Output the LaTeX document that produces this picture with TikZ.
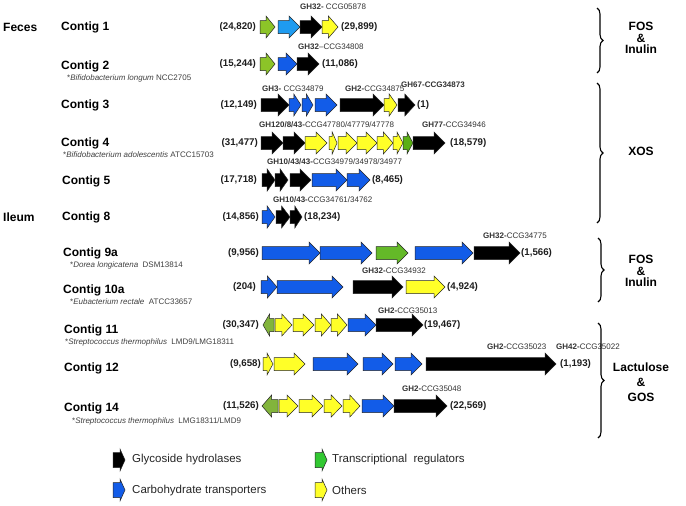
\documentclass[tikz,border=0pt]{standalone}
\usepackage{fontspec}
\setmainfont{Liberation Sans}
\usetikzlibrary{decorations.pathreplacing}
\definecolor{gblue}{RGB}{18,92,232}
\definecolor{lblue}{RGB}{30,155,240}
\definecolor{ggreen}{RGB}{140,196,40}
\definecolor{gmid}{RGB}{100,185,40}
\definecolor{gdark}{RGB}{90,175,20}
\definecolor{golive}{RGB}{130,180,60}
\definecolor{lgreen}{RGB}{50,200,50}
\definecolor{gyellow}{RGB}{255,255,40}
\definecolor{txt}{RGB}{30,30,30}
\tikzset{
 genestyle/.style={draw=black!85, line width=0.5pt, line join=miter},
 backbone/.style={draw=black!70, double=white, double distance=1.4pt, line width=0.45pt},
 coordlab/.style={font=\fontsize{9.7}{10}\selectfont\bfseries, text=txt, inner sep=0pt},
 contig/.style={font=\fontsize{12}{12}\selectfont\bfseries, anchor=west, inner sep=0pt},
 species/.style={font=\fontsize{8}{8}\selectfont, text=black!75, anchor=west, inner sep=0pt},
 glabel/.style={font=\fontsize{8}{8}\selectfont, text=black!80, anchor=west, inner sep=0pt},
 brlabel/.style={font=\fontsize{12}{11.5}\selectfont\bfseries, align=center, inner sep=0pt},
 bracestyle/.style={decorate, decoration={brace, amplitude=6pt}, line width=1.1pt},
 legtext/.style={font=\fontsize{11.5}{12}\selectfont, anchor=west, inner sep=0pt, text=black!85},
}
% right-pointing gene: x1, x2, y, colour
\newcommand\gR[4]{%
 \pgfmathsetmacro\hl{min(11,0.6*(#2-#1))}%
 \draw[genestyle, fill=#4] (#1,#3-6.5) -- ({#2-\hl},#3-6.5) -- ({#2-\hl},#3-11) -- (#2,#3) -- ({#2-\hl},#3+11) -- ({#2-\hl},#3+6.5) -- (#1,#3+6.5) -- cycle;}
% left-pointing gene
\newcommand\gL[4]{%
 \pgfmathsetmacro\hl{min(11,0.6*(#2-#1))}%
 \draw[genestyle, fill=#4] (#2,#3-6.5) -- ({#1+\hl},#3-6.5) -- ({#1+\hl},#3-11) -- (#1,#3) -- ({#1+\hl},#3+11) -- ({#1+\hl},#3+6.5) -- (#2,#3+6.5) -- cycle;}
% row: name, y, start label, its right x, end label, its left x
\newcommand\generow[6]{%
 \node[coordlab, anchor=east] (#1s) at (#4,#2) {#3};
 \node[coordlab, anchor=west] (#1e) at (#6,#2) {#5};
 \draw[backbone] (#1s.east) -- (#1e.west);}
\newcommand\legarrow[3]{%
 \draw[genestyle, fill=#3] (#1,#2-7.5) -- (#1+7,#2-7.5) -- (#1+7,#2-11) -- (#1+12,#2) -- (#1+7,#2+11) -- (#1+7,#2+7.5) -- (#1,#2+7.5) -- cycle;}
\begin{document}
\begin{tikzpicture}[x=1pt,y=-1pt]
\useasboundingbox (0,0) rectangle (686,506);
\fill[white] (0,0) rectangle (686,506);

% site labels
\node[contig] (feces) at (3,27) {Feces};
\node[contig] (ileum) at (3,217) {Ileum};

% contig labels
\node[contig] (c1) at (61,27) {Contig 1};
\node[contig] (c2) at (61,66) {Contig 2};
\node[species] (s2) at (67,78) {*\textit{Bifidobacterium longum} NCC2705};
\node[contig] (c3) at (61,105) {Contig 3};
\node[contig] (c4) at (61,143) {Contig 4};
\node[species] (s4) at (63,155) {*\textit{Bifidobacterium adolescentis} ATCC15703};
\node[contig] (c5) at (62,181) {Contig 5};
\node[contig] (c8) at (62,217) {Contig 8};
\node[contig] (c9) at (63,253) {Contig 9a};
\node[species] (s9) at (70,265) {*\textit{Dorea longicatena}\ \ DSM13814};
\node[contig] (c10) at (63,290) {Contig 10a};
\node[species] (s10) at (70,302) {*\textit{Eubacterium rectale}\ \ ATCC33657};
\node[contig] (c11) at (64,330) {Contig 11};
\node[species] (s11) at (65,342) {*\textit{Streptococcus thermophilus}\ \ LMD9/LMG18311};
\node[contig] (c12) at (64,368) {Contig 12};
\node[contig] (c14) at (64,408) {Contig 14};
\node[species] (s14) at (72,421) {*\textit{Streptococcus thermophilus}\ \ LMG18311/LMD9};

% Contig 1
\generow{r1}{27}{(24,820)}{256}{(29,899)}{341}
\gR{260}{275}{27}{ggreen}
\gR{278}{300}{27}{lblue}
\gR{300}{322}{27}{black}
\gR{322}{338}{27}{gyellow}
\node[glabel] (l1) at (300,7) {\textbf{GH32-} CCG05878};

% Contig 2
\generow{r2}{64}{(15,244)}{256}{(11,086)}{322}
\gR{260}{275}{64}{ggreen}
\gR{278}{297}{64}{gblue}
\gR{297}{319}{64}{black}
\node[glabel] (l2) at (298,47) {\textbf{GH32}\textendash CCG34808};

% Contig 3
\generow{r3}{105}{(12,149)}{257}{(1)}{417}
\gR{261}{289}{105}{black}
\gR{289}{301}{105}{gblue}
\gR{302}{313}{105}{gblue}
\gR{315}{337}{105}{gblue}
\gR{340}{384}{105}{black}
\gR{384}{397}{105}{gyellow}
\gR{398}{415}{105}{black}
\node[glabel] (l3a) at (262,89) {\textbf{GH3-} CCG34879};
\node[glabel] (l3b) at (345,89) {\textbf{GH2-}CCG34875};
\node[glabel] (l3c) at (401,85) {\textbf{GH67-CCG34873}};

% Contig 4
\generow{r4}{143}{(31,477)}{258}{(18,579)}{450}
\gR{261}{283}{143}{black}
\gR{283}{305}{143}{black}
\gR{305}{327}{143}{gyellow}
\gR{329}{337}{143}{gyellow}
\gR{338}{357}{143}{gyellow}
\gR{357}{377}{143}{gyellow}
\gR{377}{393}{143}{gyellow}
\gR{393}{403}{143}{gyellow}
\gR{403}{413}{143}{gdark}
\gR{413}{445}{143}{black}
\node[glabel] (l4a) at (259,125) {\textbf{GH120/8/43-}CCG47780/47779/47778};
\node[glabel] (l4b) at (422,125) {\textbf{GH77-}CCG34946};

% Contig 5
\generow{r5}{180}{(17,718)}{257}{(8,465)}{372}
\gR{262}{275}{180}{black}
\gR{275}{288}{180}{black}
\gR{290}{311}{180}{black}
\gR{312}{347}{180}{gblue}
\gR{347}{370}{180}{gblue}
\node[glabel] (l5) at (267,162) {\textbf{GH10/43/43-}CCG34979/34978/34977};

% Contig 8
\generow{r8}{217}{(14,856)}{259}{(18,234)}{304}
\gR{262}{275}{217}{gblue}
\gR{276}{290}{217}{black}
\gR{290}{302}{217}{black}
\node[glabel] (l8) at (273,200) {\textbf{GH10/43-}CCG34761/34762};

% Contig 9a
\generow{r9}{253}{(9,956)}{259}{(1,566)}{521}
\gR{262}{320}{253}{gblue}
\gR{320}{372}{253}{gblue}
\gR{376}{408}{253}{gmid}
\gR{415}{473}{253}{gblue}
\gR{474}{520}{253}{black}
\node[glabel] (l9) at (483,236) {\textbf{GH32-}CCG34775};

% Contig 10a
\generow{r10}{287}{(204)}{256}{(4,924)}{447}
\gR{261}{277}{287}{gblue}
\gR{277}{343}{287}{gblue}
\gR{353}{403}{287}{black}
\gR{406}{445}{287}{gyellow}
\node[glabel] (l10) at (362,271) {\textbf{GH32-}CCG34932};

% Contig 11
\generow{r11}{325}{(30,347)}{259}{(19,467)}{424}
\gL{263}{274}{325}{golive}
\gR{275}{292}{325}{gyellow}
\gR{293}{314}{325}{gyellow}
\gR{315}{331}{325}{gyellow}
\gR{331}{347}{325}{gyellow}
\gR{348}{376}{325}{gblue}
\gR{376}{423}{325}{black}
\node[glabel] (l11) at (378,311) {\textbf{GH2-}CCG35013};

% Contig 12
\generow{r12}{364}{(9,658)}{261}{(1,193)}{560}
\gR{263}{273}{364}{gyellow}
\gR{274}{305}{364}{gyellow}
\gR{313}{358}{364}{gblue}
\gR{363}{393}{364}{gblue}
\gR{395}{422}{364}{gblue}
\gR{426}{556}{364}{black}
\node[glabel] (l12a) at (487,347) {\textbf{GH2-}CCG35023};
\node[glabel] (l12b) at (556,347) {\textbf{GH42-}CCG35022};

% Contig 14
\generow{r14}{406}{(11,526)}{259}{(22,569)}{450}
\gL{262}{278}{406}{golive}
\gR{279}{298}{406}{gyellow}
\gR{299}{323}{406}{gyellow}
\gR{324}{342}{406}{gyellow}
\gR{343}{360}{406}{gyellow}
\gR{362}{394}{406}{gblue}
\gR{394}{447}{406}{black}
\node[glabel] (l14) at (402,389) {\textbf{GH2-}CCG35048};

% braces
\coordinate (b1t) at (597,8);   \coordinate (b1b) at (597,73);
\coordinate (b2t) at (597,83);  \coordinate (b2b) at (597,223);
\coordinate (b3t) at (598,238); \coordinate (b3b) at (598,302);
\coordinate (b4t) at (598,323); \coordinate (b4b) at (598,438);
\draw[bracestyle] (b1t) -- (b1b);
\draw[bracestyle] (b2t) -- (b2b);
\draw[bracestyle] (b3t) -- (b3b);
\draw[bracestyle] (b4t) -- (b4b);
\node[brlabel] (t1) at (641,38) {FOS\\\&\\Inulin};
\node[brlabel] (t2) at (641,151) {XOS};
\node[brlabel] (t3) at (641,271) {FOS\\\&\\Inulin};
\node[brlabel, font=\fontsize{12}{15}\selectfont\bfseries] (t4) at (641,382) {Lactulose\\\&\\GOS};

% legend
\legarrow{113}{460}{black}
\node[legtext] (lg1) at (132,460) {Glycoside hydrolases};
\legarrow{113}{490}{gblue}
\node[legtext] (lg2) at (132,491) {Carbohydrate transporters};
\legarrow{315}{460}{lgreen}
\node[legtext] (lg3) at (332,460) {Transcriptional\ \ regulators};
\legarrow{315}{490}{gyellow}
\node[legtext] (lg4) at (332,490) {Others};
\end{tikzpicture}
\end{document}
